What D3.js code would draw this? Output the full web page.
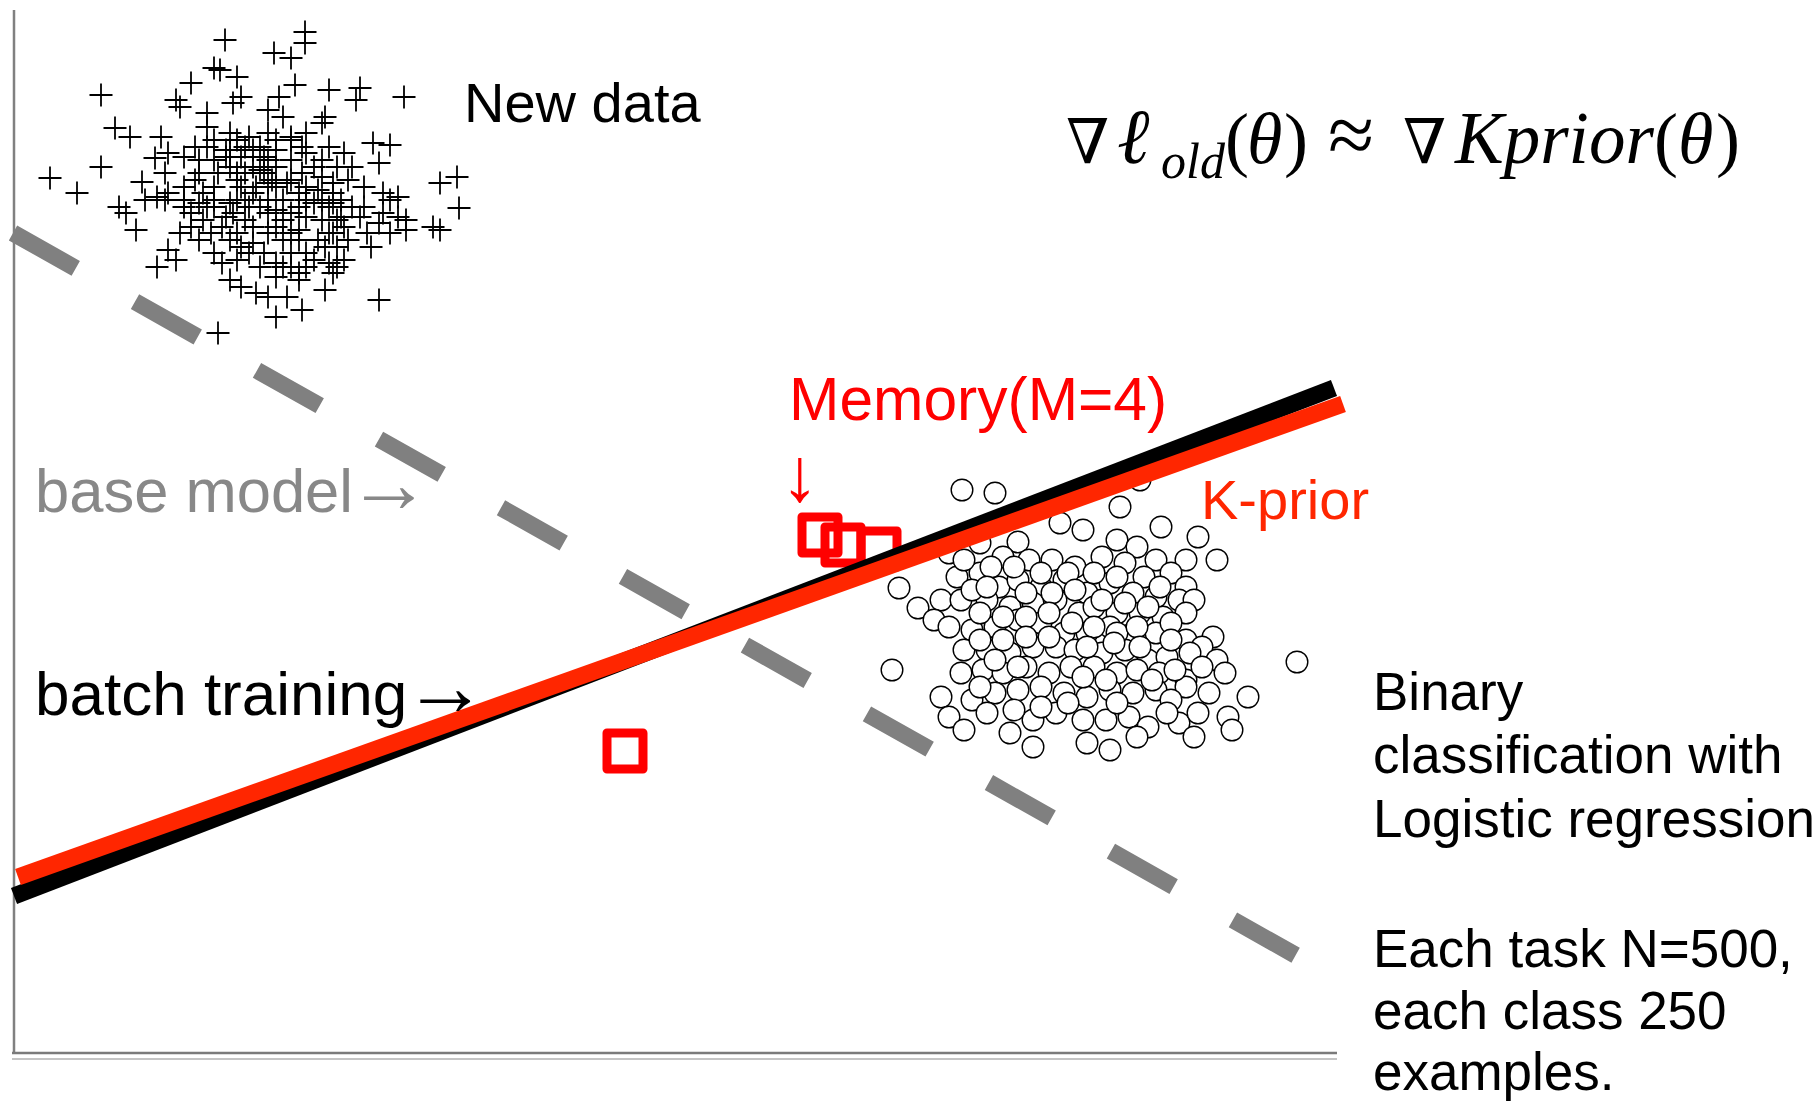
<!DOCTYPE html>
<html>
<head>
<meta charset="utf-8">
<script src="https://cdn.jsdelivr.net/npm/d3@7"></script>
<style>
  html, body { margin: 0; padding: 0; background: #fff; }
  svg { display: block; }
</style>
</head>
<body>
<svg id="chart" width="1820" height="1101"></svg>
<script>
// New task samples (class "+")
const newData = [
  [2.11,10.13],[2.91,10.21],[2.91,10.10],[2.60,10.00],[2.77,9.95],[2.00,9.85],[2.06,9.83],[2.23,9.76],
  [1.77,9.70],[2.81,9.68],[3.15,9.63],[3.46,9.65],[3.42,9.53],[3.90,9.56],[0.87,9.58],[1.62,9.53],
  [2.27,9.56],[2.65,9.56],[1.66,9.46],[1.93,9.40],[2.19,9.50],[2.54,9.43],[2.69,9.36],[3.11,9.36],
  [3.08,9.30],[1.01,9.25],[1.16,9.16],[1.47,9.16],[1.41,8.95],[1.54,9.00],[1.81,9.06],[1.93,9.26],
  [2.16,9.03],[2.12,8.96],[2.35,9.16],[2.54,9.20],[2.77,9.16],[2.88,9.06],[3.15,9.06],[3.30,9.00],
  [3.59,9.10],[3.76,9.08],[3.65,8.90],[0.87,8.86],[0.36,8.75],[0.63,8.60],[1.28,8.71],[1.43,8.56],
  [1.51,8.53],[1.54,8.60],[1.70,8.66],[1.81,8.73],[1.89,8.60],[2.00,8.66],[2.23,8.73],[2.31,8.80],
  [2.46,8.83],[2.58,8.73],[2.73,8.70],[2.92,8.66],[3.04,8.63],[3.19,8.60],[3.34,8.73],[3.50,8.66],
  [3.69,8.60],[3.84,8.56],[4.26,8.70],[4.43,8.76],[4.45,8.45],[1.05,8.46],[1.12,8.40],[1.22,8.23],
  [1.70,8.46],[1.85,8.50],[2.16,8.50],[2.31,8.53],[2.46,8.46],[2.62,8.43],[2.85,8.46],[3.00,8.50],
  [3.15,8.46],[3.27,8.53],[3.46,8.36],[3.65,8.30],[3.84,8.36],[3.92,8.23],[4.19,8.26],[4.26,8.23],
  [1.54,8.03],[1.62,7.93],[1.43,7.86],[1.85,8.13],[1.97,8.20],[2.08,8.26],[2.23,8.20],[2.39,8.10],
  [2.54,8.20],[2.69,8.13],[2.85,8.23],[3.04,8.13],[3.19,8.20],[3.23,8.06],[3.34,8.13],[3.53,8.20],
  [3.57,8.06],[3.76,8.20],[2.08,7.90],[2.23,7.93],[2.46,7.86],[2.62,7.90],[2.69,7.86],[2.85,7.80],
  [3.00,7.93],[3.15,7.90],[3.19,7.80],[2.85,7.73],[2.16,7.73],[2.27,7.66],[2.42,7.60],[2.54,7.56],
  [2.73,7.56],[3.11,7.63],[3.65,7.53],[2.62,7.36],[2.88,7.43],[2.04,7.20],[3.23,7.86],[2.00,8.00],
  [2.31,8.33],[2.39,8.60],[2.54,8.93],[2.00,8.93],[1.85,8.93],[2.62,9.03],[3.00,8.86],[3.23,8.86],
  [3.38,8.86],[2.23,9.13],[2.39,9.03],[2.50,8.96],[2.62,8.86],[2.77,8.93],[2.88,8.80],[3.08,8.76],
  [3.19,8.70],[2.16,8.86],[2.27,8.66],[2.42,8.66],[2.54,8.53],[2.69,8.53],[2.77,8.40],[2.92,8.36],
  [3.08,8.33],[3.23,8.33],[3.38,8.46],[2.00,8.46],[2.12,8.36],[1.89,8.33],[1.77,8.26],[1.66,8.20],
  [2.35,8.00],[2.50,8.00],[2.62,7.76],[2.77,8.00],[2.92,8.00],[3.11,8.06],[3.30,7.93],[2.27,8.96],
  [2.04,8.80],[2.92,9.20],[3.08,8.93],[1.93,9.06],[1.70,8.96],[1.51,8.80],[1.31,8.53],[3.50,8.46],
  [3.69,8.40],[3.76,8.53],[3.92,8.33],
  [2.12,9.03],[2.16,8.96],[2.23,8.80],[2.39,8.86],[2.50,8.80],[2.54,8.70],[2.62,8.66],[2.35,8.46],
  [2.19,8.40],[2.54,8.40],[2.69,8.33],[2.77,8.20],[2.85,8.13],[2.23,8.53],[2.00,8.53],[1.93,8.46],
  [2.85,8.60],[2.92,8.53],[3.08,8.53],[3.19,8.50],[3.27,8.36],[3.30,8.26],[2.77,8.73],[2.92,9.00],
  [2.77,9.13],[2.62,9.13],[2.46,9.06],[2.31,9.06],[2.16,9.20],[2.00,9.13],[1.85,8.80],[1.70,8.53],
  [1.77,8.40],[2.39,8.26],[2.62,8.26],[2.77,7.86],[2.92,7.86],[2.27,8.06],[2.16,8.13],[3.15,8.20]
];

// Previous task samples (class "o")
const oldData = [
  [9.48,5.63],[9.81,5.60],[11.06,5.46],[11.26,5.73],[11.47,5.26],[11.84,5.16],[12.03,4.93],[8.85,4.65],
  [9.04,4.45],[8.78,3.83],[12.83,3.91],[10.46,5.30],[10.69,5.23],[10.04,5.11],[9.66,5.10],[9.35,5.00],
  [11.03,5.13],[11.23,5.06],[11.42,4.93],[11.72,4.93],[9.89,4.96],[10.15,4.93],[10.38,4.93],[10.61,4.86],
  [10.88,4.96],[11.11,4.90],[11.30,4.76],[11.57,4.80],[11.72,4.66],[9.43,4.76],[9.66,4.80],[9.85,4.66],
  [10.04,4.73],[10.27,4.66],[10.50,4.73],[10.73,4.60],[10.96,4.70],[11.19,4.60],[11.42,4.56],[11.65,4.53],
  [11.80,4.53],[9.27,4.53],[9.47,4.53],[9.73,4.53],[9.96,4.46],[10.19,4.50],[10.42,4.53],[10.65,4.40],
  [10.80,4.46],[11.03,4.40],[11.26,4.40],[11.49,4.36],[11.72,4.40],[11.99,4.16],[9.20,4.33],[9.35,4.26],
  [9.58,4.23],[9.81,4.26],[10.04,4.33],[10.27,4.30],[10.50,4.20],[10.73,4.20],[10.96,4.26],[11.19,4.20],
  [11.42,4.20],[11.72,4.13],[11.88,4.06],[9.50,4.03],[9.73,4.03],[9.96,4.00],[10.19,4.06],[10.42,4.06],
  [10.61,4.03],[10.88,4.00],[11.11,4.03],[11.34,3.93],[11.53,3.96],[11.76,4.00],[12.03,3.93],[12.11,3.80],
  [9.47,3.80],[9.69,3.83],[9.89,3.80],[10.12,3.86],[10.35,3.80],[10.57,3.86],[10.80,3.86],[11.03,3.80],
  [11.23,3.83],[11.45,3.80],[11.72,3.73],[9.27,3.56],[9.58,3.53],[9.81,3.60],[10.04,3.63],[10.27,3.66],
  [10.50,3.60],[10.73,3.56],[10.96,3.63],[11.19,3.60],[11.42,3.63],[11.72,3.66],[12.34,3.56],[9.35,3.36],
  [9.50,3.23],[9.73,3.40],[9.96,3.20],[10.19,3.33],[10.42,3.40],[10.69,3.33],[10.92,3.33],[11.15,3.36],
  [11.34,3.26],[11.65,3.30],[11.84,3.40],[12.14,3.36],[12.18,3.23],[10.19,3.06],[10.73,3.10],[10.96,3.03],
  [11.23,3.16],[11.80,3.16],
  [9.50,4.93],[9.77,4.86],[10.00,4.86],[10.27,4.80],[10.54,4.80],[10.80,4.80],[11.03,4.76],[11.46,4.66],
  [9.58,4.63],[9.73,4.66],[10.12,4.60],[10.38,4.60],[10.61,4.63],[10.88,4.53],[11.11,4.50],[11.34,4.46],
  [11.57,4.30],[9.66,4.40],[9.89,4.36],[10.12,4.36],[10.35,4.40],[10.58,4.30],[10.80,4.26],[11.03,4.20],
  [11.23,4.26],[11.57,4.13],[9.66,4.13],[9.89,4.13],[10.12,4.16],[10.35,4.16],[10.73,4.06],[11.00,4.10],
  [11.26,4.06],[11.88,3.86],[9.81,3.93],[10.04,3.86],[10.69,3.76],[10.92,3.73],[11.38,3.73],[11.61,3.83],
  [10.00,3.43],[10.27,3.46],[10.54,3.50],[11.57,3.53],[11.95,3.60],[9.66,3.66],[11.03,3.50],[11.53,3.40]
];

// Stored memory points (M = 4)
const memoryPoints = [[8.06,5.18],[8.29,5.08],[8.65,5.04],[6.11,3.02]];

// Decision boundaries, given by their two end points
const baseModel   = [[-0.01,8.20],[12.83,0.97]];
const batchLine   = [[0.00,1.57],[13.20,6.65]];
const kpriorLine  = [[0.04,1.76],[13.29,6.49]];

const xDomain = [0, 13.23];
const yDomain = [0, 10.43];

const svg = d3.select("#chart");
const x = d3.scaleLinear().domain(xDomain).range([14, 1337]);
const y = d3.scaleLinear().domain(yDomain).range([1053, 10]);
const line = d3.line().x(d => x(d[0])).y(d => y(d[1]));

svg.append("rect").attr("width", 1820).attr("height", 1101).attr("fill", "#fff");

// axes (plain frame lines, no ticks)
svg.append("line")
  .attr("x1", x(0)).attr("x2", x(0))
  .attr("y1", y(yDomain[1])).attr("y2", y(0))
  .attr("stroke", "#808080").attr("stroke-width", 2.5);
svg.append("line")
  .attr("x1", x(0) - 2).attr("x2", x(xDomain[1]))
  .attr("y1", y(0)).attr("y2", y(0))
  .attr("stroke", "#7a7a7a").attr("stroke-width", 2.5);
svg.append("line")
  .attr("x1", x(0) - 2).attr("x2", x(xDomain[1]))
  .attr("y1", y(0) + 6).attr("y2", y(0) + 6)
  .attr("stroke", "#c4c4c4").attr("stroke-width", 2);

// "+" markers
svg.append("g").selectAll("path").data(newData).join("path")
  .attr("transform", d => `translate(${x(d[0])},${y(d[1])})`)
  .attr("d", "M-11.5,0H11.5M0,-11.5V11.5")
  .attr("stroke", "#000").attr("stroke-width", 1.8).attr("fill", "none");

// "o" markers
svg.append("g").selectAll("circle").data(oldData).join("circle")
  .attr("cx", d => x(d[0])).attr("cy", d => y(d[1])).attr("r", 10.8)
  .attr("fill", "#fff").attr("stroke", "#000").attr("stroke-width", 1.4);

// base model boundary
svg.append("path").datum(baseModel).attr("d", line)
  .attr("fill", "none").attr("stroke", "#808080").attr("stroke-width", 17)
  .attr("stroke-dasharray", "72,68");

// memory squares
svg.append("g").selectAll("rect").data(memoryPoints).join("rect")
  .attr("x", d => x(d[0]) - 18).attr("y", d => y(d[1]) - 18)
  .attr("width", 36).attr("height", 36)
  .attr("fill", "none").attr("stroke", "#ff0000").attr("stroke-width", 9)
  .attr("stroke-linejoin", "round");

// batch training & K-prior boundaries
svg.append("path").datum(batchLine).attr("d", line)
  .attr("fill", "none").attr("stroke", "#000").attr("stroke-width", 17);
svg.append("path").datum(kpriorLine).attr("d", line)
  .attr("fill", "none").attr("stroke", "#ff2600").attr("stroke-width", 17);

// labels
const sans = "'Liberation Sans', Arial, Helvetica, sans-serif";
const serif = "'Liberation Serif', 'Times New Roman', 'DejaVu Serif', serif";

function label(tx, ty, str, size, color, family) {
  return svg.append("text").attr("x", tx).attr("y", ty)
    .attr("font-family", family || sans).attr("font-size", size)
    .attr("fill", color).text(str);
}

label(464, 122, "New data", 56, "#000");

const base = label(35, 512, "base model", 61.5, "#888");
base.append("tspan").attr("dx", -6).attr("font-family", serif).attr("font-size", 84).text("\u2192");

const batch = label(35, 715, "batch training", 62, "#000");
batch.append("tspan").attr("dx", -4).attr("font-family", serif).attr("font-size", 84).text("\u2192");

label(789, 420, "Memory(M=4)", 60.5, "#ff0000");
label(781, 501, "\u2193", 76, "#ff0000", serif);
label(1201, 519, "K-prior", 56, "#ff2600");

const notes = [
  ["Binary", 710], ["classification with", 773], ["Logistic regression", 837],
  ["Each task N=500,", 967], ["each class 250", 1029], ["examples.", 1090]
];
notes.forEach(([t, ty]) => label(1373, ty, t, 53, "#000"));

// gradient-matching formula
const f = svg.append("g").attr("font-family", serif).attr("font-size", 72).attr("fill", "#000");
const pieces = [
  { t: "\u2207", x: 1066, y: 163, size: 62, family: "'DejaVu Serif', serif" },
  { t: "\u2113", x: 1117, y: 163, size: 78, italic: true },
  { t: "old", x: 1161, y: 178, size: 50, italic: true },
  { t: "(", x: 1225, y: 163 },
  { t: "\u03b8", x: 1247, y: 163, italic: true },
  { t: ")", x: 1284, y: 163 },
  { t: "\u2248", x: 1328, y: 163, size: 84 },
  { t: "\u2207", x: 1403, y: 163, size: 62, family: "'DejaVu Serif', serif" },
  { t: "Kprior", x: 1455, y: 163, size: 73, italic: true },
  { t: "(", x: 1654, y: 163 },
  { t: "\u03b8", x: 1678, y: 163, italic: true },
  { t: ")", x: 1716, y: 163 }
];
pieces.forEach(p => {
  const el = f.append("text").attr("x", p.x).attr("y", p.y).text(p.t);
  if (p.size) el.attr("font-size", p.size);
  if (p.italic) el.attr("font-style", "italic");
  if (p.family) el.attr("font-family", p.family);
});
</script>
</body>
</html>
